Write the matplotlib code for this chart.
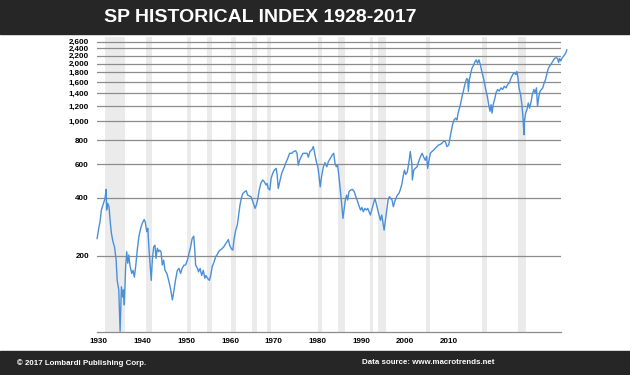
import matplotlib
matplotlib.use('Agg')
import matplotlib.pyplot as plt
from matplotlib.patches import Rectangle

# inflation-adjusted index (decimal year, value)
years = [1928.1, 1928.4, 1928.65, 1928.9, 1929.2, 1929.6, 1929.8, 1929.9, 1930.1, 1930.35,
         1930.55, 1930.8, 1931.1, 1931.4, 1931.7, 1931.9, 1932.2, 1932.45, 1932.7, 1932.95,
         1933.1, 1933.25, 1933.5, 1933.7, 1933.9, 1934.1, 1934.3, 1934.65, 1934.9, 1935.15,
         1935.4, 1935.7, 1936.0, 1936.35, 1936.65, 1937.0, 1937.2, 1937.5, 1937.7, 1937.9,
         1938.15, 1938.35, 1938.55, 1938.8, 1939.05, 1939.25, 1939.5, 1939.75, 1939.95, 1940.2,
         1940.45, 1940.7, 1940.95, 1941.3, 1941.65, 1942.0, 1942.35, 1942.65, 1942.95, 1943.3,
         1943.6, 1943.9, 1944.2, 1944.55, 1944.85, 1945.2, 1945.5, 1945.8, 1946.1, 1946.4,
         1946.6, 1946.75, 1947.1, 1947.3, 1947.6, 1947.9, 1948.2, 1948.5, 1948.7, 1949.0,
         1949.35, 1949.6, 1949.9, 1950.25, 1950.55, 1950.8, 1951.1, 1951.4, 1951.75, 1952.05,
         1952.4, 1952.7, 1952.95, 1953.2, 1953.5, 1953.8, 1954.0, 1954.35, 1954.65, 1954.9,
         1955.15, 1955.4, 1955.7, 1956.05, 1956.35, 1956.6, 1956.9, 1957.25, 1957.6, 1958.0,
         1958.25, 1958.5, 1958.8, 1959.1, 1959.45, 1959.75, 1960.1, 1960.3, 1960.5, 1960.8,
         1961.05, 1961.35, 1961.65, 1962.0, 1962.2, 1962.4, 1962.7, 1963.05, 1963.45, 1963.8,
         1964.2, 1964.55, 1964.95, 1965.3, 1965.7, 1965.95, 1966.2, 1966.45, 1966.7, 1967.1,
         1967.45, 1967.85, 1968.1, 1968.4, 1968.75, 1969.05, 1969.3, 1969.6, 1969.9, 1970.1,
         1970.35, 1970.6, 1970.95, 1971.25, 1971.6, 1971.9, 1972.25, 1972.65, 1972.9, 1973.15,
         1973.4, 1973.65, 1973.9, 1974.15, 1974.4, 1974.65, 1974.85, 1975.1, 1975.35, 1975.55,
         1975.8, 1976.1, 1976.5, 1976.8, 1977.1, 1977.45, 1977.75, 1978.0, 1978.25, 1978.5,
         1978.8, 1979.1, 1979.35, 1979.6, 1979.85, 1980.1, 1980.35, 1980.7, 1980.95, 1981.25,
         1981.5, 1981.75, 1982.0, 1982.25, 1982.45, 1982.7, 1982.95, 1983.2, 1983.45, 1983.7,
         1983.95, 1984.2, 1984.45, 1984.7, 1984.95, 1985.25, 1985.5, 1985.8, 1986.05, 1986.3,
         1986.55, 1986.85, 1987.2, 1987.4, 1987.7, 1987.8, 1988.05, 1988.35, 1988.7, 1989.0,
         1989.3, 1989.65, 1989.95, 1990.25, 1990.5, 1990.7, 1990.95, 1991.2, 1991.5, 1991.85,
         1992.15, 1992.45, 1992.8, 1993.1, 1993.4, 1993.75, 1994.05, 1994.35, 1994.7, 1994.9,
         1995.15, 1995.4, 1995.7, 1996.0, 1996.25, 1996.45, 1996.7, 1996.95, 1997.2, 1997.45,
         1997.65, 1997.9, 1998.1, 1998.3, 1998.4, 1998.6, 1998.85, 1999.1, 1999.4, 1999.65,
         1999.9, 2000.15, 2000.4, 2000.65, 2000.95, 2001.25, 2001.5, 2001.75, 2002.0, 2002.25,
         2002.5, 2002.7, 2002.9, 2003.1, 2003.4, 2003.65, 2003.95, 2004.25, 2004.6, 2004.9,
         2005.2, 2005.55, 2005.85, 2006.15, 2006.5, 2006.8, 2007.1, 2007.4, 2007.6, 2007.8,
         2008.0, 2008.3, 2008.55, 2008.75, 2008.95, 2009.0, 2009.25, 2009.5, 2009.75, 2010.0,
         2010.3, 2010.5, 2010.8, 2011.05, 2011.3, 2011.5, 2011.75, 2012.0, 2012.25, 2012.5,
         2012.75, 2013.0, 2013.25, 2013.5, 2013.8, 2014.05, 2014.3, 2014.55, 2014.8, 2015.05,
         2015.3, 2015.5, 2015.7, 2015.9, 2016.15, 2016.4, 2016.65, 2016.85, 2017.05]
values = [246, 278, 301, 346, 367, 398, 443, 346, 375, 360,
          307, 262, 237, 222, 190, 149, 133, 81, 138, 122,
          133, 111, 176, 210, 183, 202, 179, 162, 168, 155,
          176, 214, 251, 278, 295, 309, 301, 267, 278, 222,
          176, 149, 190, 222, 227, 194, 219, 210, 214, 210,
          179, 190, 168, 162, 149, 135, 118, 132, 150, 168,
          172, 162, 172, 179, 179, 190, 206, 222, 246, 253,
          214, 179, 172, 165, 172, 158, 168, 153, 158, 153,
          149, 158, 176, 186, 198, 202, 210, 214, 218, 222,
          230, 237, 243, 227, 218, 214, 241, 272, 289, 326,
          367, 398, 422, 431, 436, 414, 410, 405, 382, 353,
          367, 390, 440, 476, 496, 486, 467, 476, 448, 440,
          506, 537, 558, 570, 527, 448, 486, 537, 570, 606,
          642, 683, 683, 697, 704, 683, 592, 628, 652, 683,
          683, 683, 652, 697, 711, 740, 683, 619, 581, 527,
          457, 516, 581, 610, 581, 619, 642, 670, 683, 606,
          581, 592, 516, 440, 375, 313, 346, 390, 414, 390,
          431, 440, 443, 431, 406, 382, 360, 346, 357, 339,
          353, 346, 353, 339, 326, 346, 367, 398, 375, 346,
          326, 306, 326, 295, 272, 306, 346, 390, 406, 398,
          390, 360, 382, 398, 414, 422, 440, 470, 516, 558,
          530, 546, 628, 697, 606, 496, 558, 570, 581, 619,
          652, 683, 652, 628, 659, 570, 628, 683, 697, 711,
          726, 740, 755, 760, 770, 790, 785, 740, 755, 815,
          885, 960, 1018, 1040, 1018, 1104, 1169, 1240, 1347, 1432,
          1520, 1615, 1674, 1648, 1432, 1648, 1781, 1895, 1962, 2040,
          2092, 2008, 2092, 1990, 1815, 1690, 1560, 1440, 1350, 1222,
          1129, 1222, 1105, 1222, 1310, 1411, 1467, 1439, 1495, 1467,
          1524, 1495, 1558, 1585, 1685, 1755, 1790, 1755, 1820, 1685,
          1495, 1376, 1222, 1044, 853, 1000, 1105, 1151, 1248, 1172,
          1271, 1376, 1467, 1411, 1495, 1199, 1352, 1439, 1467, 1495,
          1585, 1646, 1755, 1870, 1946, 1985, 2034, 2094, 2135, 2146,
          2126, 2026, 2126, 2064, 2135, 2181, 2225, 2274, 2357]

# recession bands
rec_start = [1929.6, 1937.4, 1945.1, 1948.9, 1953.45, 1957.4, 1960.3, 1969.9,
             1973.7, 1979.8, 1981.3, 1990.45, 2000.95, 2007.9]
rec_end = [1933.4, 1938.5, 1945.9, 1949.8, 1954.35, 1958.3, 1961.0, 1970.75,
           1975.0, 1980.4, 1982.9, 1991.1, 2001.9, 2009.35]

y_ticks = [200, 400, 600, 800, 1000, 1200, 1400, 1600, 1800, 2000, 2200, 2400, 2600]
x_labels = ['1930', '1940', '1950', '1960', '1970', '1980', '1990', '2000', '2010']
# the original labels sit every 100 months, starting mid-1928
x_ticks = [1928.45 + 8.28 * i for i in range(len(x_labels))]

plt.rcParams['font.family'] = ['Liberation Sans', 'DejaVu Sans']

fig = plt.figure(figsize=(6.3, 3.75), dpi=100)
W, H = 630, 375

# header and footer bars
fig.patches.append(Rectangle((0, 1 - 34 / H), 1, 34 / H, transform=fig.transFigure,
                             color='#262626', zorder=0))
fig.patches.append(Rectangle((0, 0), 1, 24 / H, transform=fig.transFigure,
                             color='#262626', zorder=0))
fig.text(0.413, 1 - 18 / H, 'SP HISTORICAL INDEX 1928-2017', color='white',
         fontsize=14, fontweight='bold', ha='center', va='center')
fig.text(17 / W, 12 / H, '\u00a9 2017 Lombardi Publishing Corp.', color='white',
         fontsize=5.7, fontweight='bold', ha='left', va='center')
fig.text(495 / W, 12 / H, 'Data source: www.macrotrends.net', color='white',
         fontsize=5.7, fontweight='bold', ha='right', va='center')

ax = fig.add_axes([96.6 / W, 1 - 332.3 / H, (561 - 96.6) / W, (332.3 - 37) / H])
ax.set_yscale('log')
ax.set_ylim(80, 2750)
ax.set_xlim(1928.0, 2015.95)

for s, e in zip(rec_start, rec_end):
    ax.axvspan(s, e, color='#ebebeb', lw=0, zorder=0)

for v in y_ticks:
    ax.axhline(v, color='#8c8c8c', lw=0.9, zorder=1)

ax.plot(years, values, color='#4a90d9', lw=1.0, zorder=3, clip_on=False)

ax.yaxis.set_major_locator(matplotlib.ticker.FixedLocator(y_ticks))
ax.yaxis.set_minor_locator(matplotlib.ticker.NullLocator())
ax.set_yticklabels([f'{v:,}' for v in y_ticks])
ax.set_xticks(x_ticks)
ax.set_xticklabels(x_labels)
ax.tick_params(length=0, labelsize=5.8)
for lab in ax.get_yticklabels() + ax.get_xticklabels():
    lab.set_fontweight('bold')
ax.tick_params(axis='y', pad=5.5)
ax.tick_params(axis='x', pad=4)

for sp in ['top', 'right', 'left']:
    ax.spines[sp].set_visible(False)
ax.spines['bottom'].set_color('#8c8c8c')
ax.spines['bottom'].set_linewidth(0.9)
ax.patch.set_alpha(0)

fig.savefig('out.png', dpi=100, facecolor='white')
